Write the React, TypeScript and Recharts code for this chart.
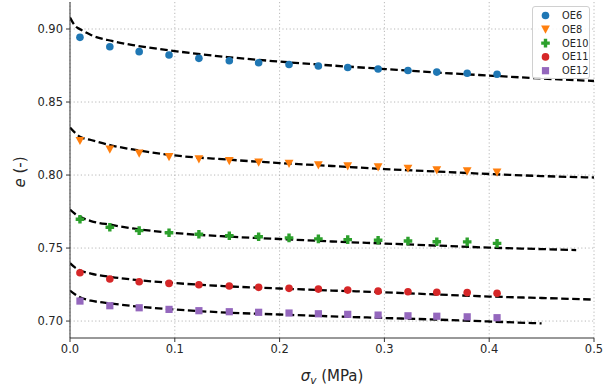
import React from "react";
import {
  ComposedChart,
  Scatter,
  Line,
  XAxis,
  YAxis,
  CartesianGrid,
  Label,
} from "recharts";

// measured stress levels (MPa)
const SIGMA = [0.0095, 0.038, 0.066, 0.0945, 0.123, 0.152, 0.18, 0.209, 0.237, 0.265, 0.294, 0.3225, 0.35, 0.379, 0.4075];

const OE6 = [0.8943, 0.8879, 0.8845, 0.8822, 0.8799, 0.8783, 0.8769, 0.8757, 0.8747, 0.8736, 0.8726, 0.8716, 0.8705, 0.8697, 0.869];
const OE8 = [0.8235, 0.8176, 0.8149, 0.8125, 0.811, 0.8098, 0.8087, 0.8079, 0.8068, 0.8062, 0.8055, 0.8045, 0.8034, 0.8027, 0.8018];
const OE10 = [0.7697, 0.7642, 0.7619, 0.7605, 0.7594, 0.7584, 0.7577, 0.757, 0.7563, 0.7558, 0.7553, 0.7548, 0.7543, 0.7542, 0.7532];
const OE11 = [0.7331, 0.7288, 0.7269, 0.7258, 0.7249, 0.724, 0.7231, 0.7224, 0.7219, 0.7212, 0.7205, 0.7201, 0.7197, 0.7195, 0.719];
const OE12 = [0.7137, 0.7105, 0.7091, 0.708, 0.7071, 0.7064, 0.706, 0.7055, 0.705, 0.7046, 0.7041, 0.7036, 0.7033, 0.7029, 0.7023];

// fitted curves (dashed)
const FIT_X = [0, 0.005, 0.01, 0.02, 0.04, 0.06, 0.1, 0.15, 0.2, 0.25, 0.3, 0.35, 0.4, 0.45, 0.5];
const FIT_X_OE10 = [0, 0.005, 0.01, 0.02, 0.04, 0.06, 0.1, 0.15, 0.2, 0.25, 0.3, 0.35, 0.4, 0.45, 0.483];
const FIT_X_OE12 = [0, 0.005, 0.01, 0.02, 0.04, 0.06, 0.1, 0.15, 0.2, 0.25, 0.3, 0.35, 0.4, 0.45];

const FIT_OE6 = [0.9079, 0.9021, 0.8997, 0.8959, 0.8918, 0.889, 0.8849, 0.8808, 0.8777, 0.875, 0.8726, 0.8702, 0.8681, 0.8661, 0.8644];
const FIT_OE8 = [0.8325, 0.8288, 0.826, 0.824, 0.8202, 0.8175, 0.8134, 0.8106, 0.8082, 0.8062, 0.8041, 0.8024, 0.8007, 0.7993, 0.7983];
const FIT_OE10 = [0.7764, 0.7733, 0.7712, 0.7685, 0.7658, 0.7634, 0.7603, 0.7579, 0.7562, 0.7545, 0.7531, 0.7517, 0.7503, 0.7493, 0.7486];
const FIT_OE11 = [0.7397, 0.7366, 0.7346, 0.7325, 0.7301, 0.7284, 0.726, 0.7238, 0.7223, 0.7209, 0.7197, 0.7182, 0.7168, 0.7158, 0.7147];
const FIT_OE12 = [0.7209, 0.7182, 0.7161, 0.714, 0.712, 0.7103, 0.7079, 0.7058, 0.7045, 0.7032, 0.7021, 0.701, 0.6997, 0.6984];

const X_TICKS = [0, 0.1, 0.2, 0.3, 0.4, 0.5];
const Y_TICKS = [0.7, 0.75, 0.8, 0.85, 0.9];

const FONT = "'DejaVu Sans', sans-serif";
const TEXT = "#262626";

const pts = (xs: number[], ys: number[]) => ys.map((y, i) => ({ x: xs[i], y }));

type MarkerKind = "circle" | "tri" | "plus" | "square";

function Marker({ cx, cy, fill, kind }: { cx: number; cy: number; fill: string; kind: MarkerKind }) {
  if (cx == null || cy == null) return null;
  if (kind === "tri") {
    return <polygon points={`${cx - 4.4},${cy - 3.8} ${cx + 4.4},${cy - 3.8} ${cx},${cy + 4.4}`} fill={fill} />;
  }
  if (kind === "plus") {
    const a = 1.7, b = 4.3;
    return (
      <polygon
        points={`${cx - a},${cy - b} ${cx + a},${cy - b} ${cx + a},${cy - a} ${cx + b},${cy - a} ${cx + b},${cy + a} ${cx + a},${cy + a} ${cx + a},${cy + b} ${cx - a},${cy + b} ${cx - a},${cy + a} ${cx - b},${cy + a} ${cx - b},${cy - a} ${cx - a},${cy - a}`}
        fill={fill}
      />
    );
  }
  if (kind === "square") {
    return <rect x={cx - 3.6} y={cy - 3.6} width={7.2} height={7.2} fill={fill} />;
  }
  return <circle cx={cx} cy={cy} r={3.8} fill={fill} />;
}

const SERIES: { name: string; color: string; kind: MarkerKind; ys: number[]; fitX: number[]; fitY: number[] }[] = [
  { name: "OE6", color: "#1f77b4", kind: "circle", ys: OE6, fitX: FIT_X, fitY: FIT_OE6 },
  { name: "OE8", color: "#ff7f0e", kind: "tri", ys: OE8, fitX: FIT_X, fitY: FIT_OE8 },
  { name: "OE10", color: "#2ca02c", kind: "plus", ys: OE10, fitX: FIT_X_OE10, fitY: FIT_OE10 },
  { name: "OE11", color: "#d62728", kind: "circle", ys: OE11, fitX: FIT_X, fitY: FIT_OE11 },
  { name: "OE12", color: "#9467bd", kind: "square", ys: OE12, fitX: FIT_X_OE12, fitY: FIT_OE12 },
];

function XLabel(props: any) {
  const vb = props.viewBox || {};
  const cx = (vb.x ?? 70) + (vb.width ?? 524) / 2;
  return (
    <text x={cx} y={381} textAnchor="middle" fontSize={15} fontFamily={FONT} fill={TEXT}>
      <tspan fontStyle="italic">σ</tspan>
      <tspan fontStyle="italic" fontSize={10.5} dy={3}>v</tspan>
      <tspan dy={-3}>{"  (MPa)"}</tspan>
    </text>
  );
}

function YLabel() {
  return (
    <text transform="translate(25,172) rotate(-90)" textAnchor="middle" fontSize={15} fontFamily={FONT} fill={TEXT}>
      <tspan fontStyle="italic">e</tspan>
      <tspan>{" (-)"}</tspan>
    </text>
  );
}

function LegendBox() {
  return (
    <div
      style={{
        position: "absolute",
        left: 532,
        top: 6,
        width: 58,
        height: 73,
        boxSizing: "border-box",
        border: "1px solid #d0d0d0",
        borderRadius: 3,
        background: "rgba(255,255,255,0.85)",
        fontFamily: FONT,
        color: TEXT,
      }}
    >
      <svg width={58} height={73} style={{ position: "absolute", left: -1, top: -1 }}>
        {SERIES.map((s, i) => {
          const y = 9.5 + i * 13.8;
          return (
            <g key={s.name}>
              <Marker cx={13.5} cy={y} fill={s.color} kind={s.kind} />
              <text x={30} y={y + 3.5} fontSize={9.8} fontFamily={FONT} fill={TEXT}>
                {s.name}
              </text>
            </g>
          );
        })}
      </svg>
    </div>
  );
}

export default function App() {
  return (
    <div style={{ position: "absolute", left: 0, top: 0, width: 616, height: 391, background: "#fff" }}>
      <ComposedChart width={616} height={391} margin={{ top: 2, right: 22, bottom: 0, left: 0 }}>
        <CartesianGrid stroke="#b0b0b0" strokeWidth={0.9} strokeDasharray="1.2 2.4" horizontalValues={Y_TICKS} verticalValues={X_TICKS} />
        <XAxis
          type="number"
          dataKey="x"
          domain={[0, 0.5]}
          ticks={X_TICKS}
          tickFormatter={(v: number) => v.toFixed(1)}
          allowDataOverflow
          height={53}
          tickSize={4}
          tickMargin={3}
          stroke="#333"
          tick={{ fontSize: 11.5, fill: TEXT, fontFamily: FONT }}
        >
          <Label content={<XLabel />} />
        </XAxis>
        <YAxis
          type="number"
          dataKey="y"
          domain={[0.6884, 0.9185]}
          ticks={Y_TICKS}
          tickFormatter={(v: number) => v.toFixed(2)}
          allowDataOverflow
          width={70}
          tickSize={4}
          tickMargin={3}
          stroke="#333"
          tick={{ fontSize: 11.5, fill: TEXT, fontFamily: FONT }}
        >
          <Label content={<YLabel />} />
        </YAxis>
        {SERIES.map((s) => (
          <Scatter
            key={s.name}
            name={s.name}
            data={pts(SIGMA, s.ys)}
            dataKey="y"
            fill={s.color}
            isAnimationActive={false}
            shape={(p: any) => <Marker cx={p.cx} cy={p.cy} fill={s.color} kind={s.kind} />}
          />
        ))}
        {SERIES.map((s) => (
          <Line
            key={"fit-" + s.name}
            data={pts(s.fitX, s.fitY)}
            dataKey="y"
            type="monotone"
            stroke="#000"
            strokeWidth={2.3}
            strokeDasharray="7.5 3.5"
            dot={false}
            activeDot={false}
            legendType="none"
            isAnimationActive={false}
          />
        ))}
      </ComposedChart>
      <LegendBox />
    </div>
  );
}
